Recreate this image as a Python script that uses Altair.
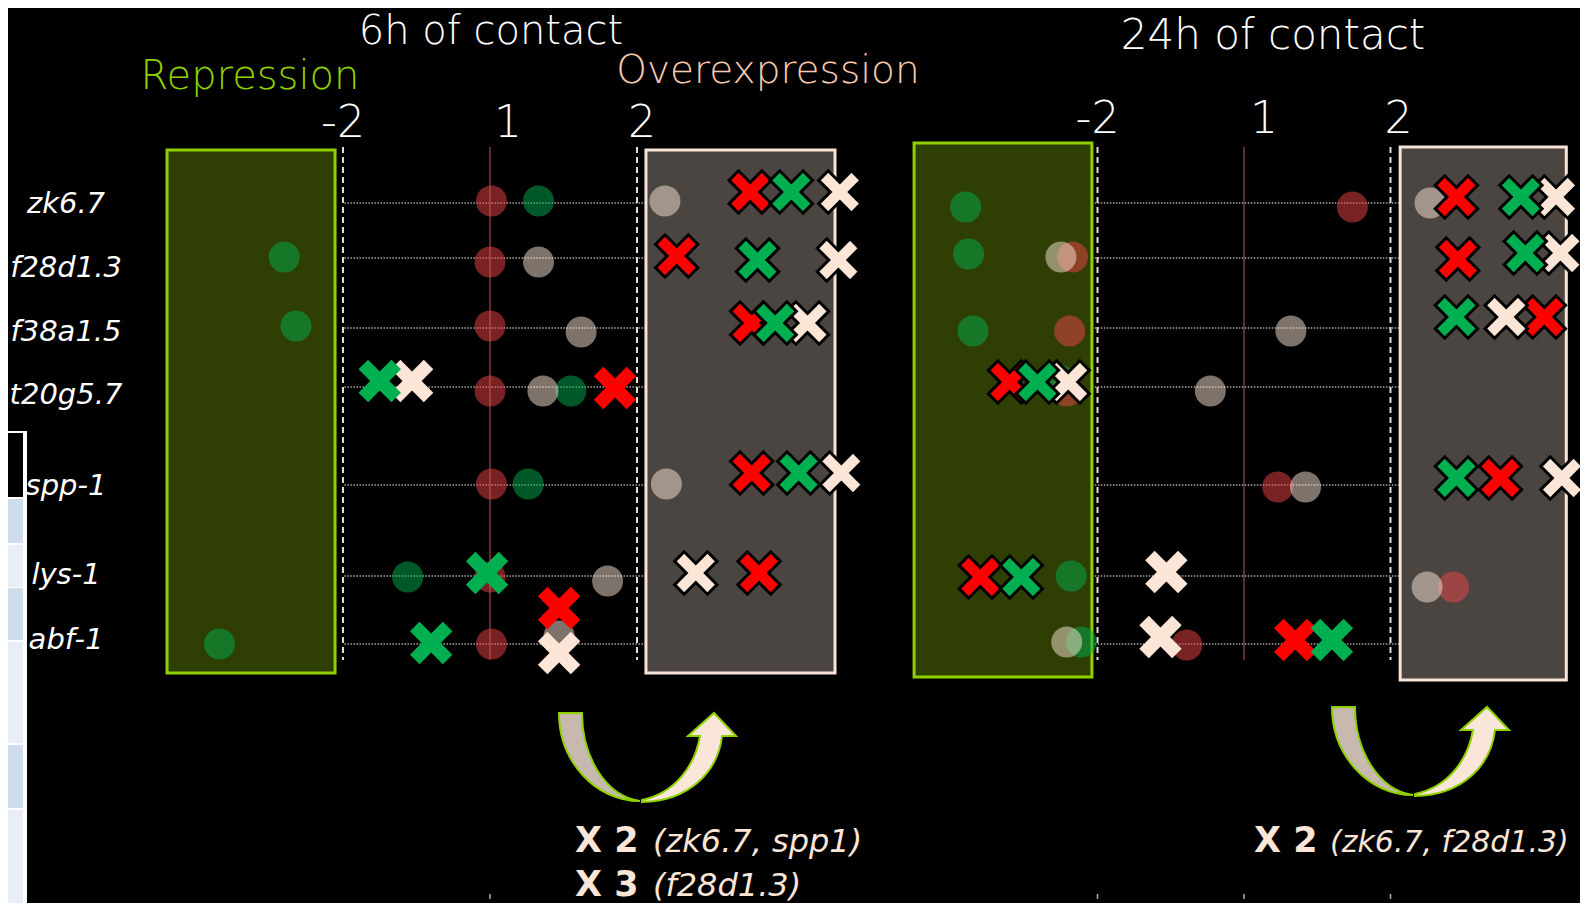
import altair as alt
import pandas as pd

# ---------------- data ----------------
GENES = ["zk6.7", "f28d1.3", "f38a1.5", "t20g5.7", "spp-1", "lys-1", "abf-1"]
PANELS = ["6h", "24h"]
PANEL_TITLES = ["6h of contact", "24h of contact"]
TICK_VALUES = [-1, 0, 1]          # log2 fold change
TICK_LABELS = ["-2", "1", "2"]     # fold change as printed

# log2 fold change per gene (None = no mark)
H6_CIRCLE_RED = [0.01, 0.0, 0.0, 0.0, 0.01, 0.0, 0.01]
H6_CIRCLE_GREEN = [0.33, -1.40, -1.32, 0.55, 0.26, -0.56, -1.84]
H6_CIRCLE_WHITE = [1.19, 0.33, 0.62, 0.36, 1.20, 0.80, 0.47]
H6_CROSS_RED = [1.77, 1.27, 1.78, 0.85, 1.78, 1.83, 0.47]
H6_CROSS_GREEN = [2.05, 1.82, 1.94, -0.75, 2.10, -0.02, -0.40]
H6_CROSS_WHITE = [2.38, 2.37, 2.16, -0.53, 2.39, 1.40, 0.47]

H24_CIRCLE_RED = [0.74, -1.17, -1.19, -1.21, 0.23, 1.43, -0.39]
H24_CIRCLE_GREEN = [-1.90, -1.88, -1.85, -1.26, None, -1.18, -1.11]
H24_CIRCLE_WHITE = [1.27, -1.25, 0.32, -0.23, 0.42, 1.25, -1.21]
H24_CROSS_RED = [1.45, 1.46, 2.05, -1.60, 1.75, -1.80, 0.35]
H24_CROSS_GREEN = [1.89, 1.92, 1.45, -1.41, 1.45, -1.52, 0.60]
H24_CROSS_WHITE = [2.13, 2.16, 1.79, -1.20, 2.17, -0.53, -0.57]

SECTION_TITLES = ["Repression", "Overexpression"]
ANNOT_6H = [("X 2", "(zk6.7, spp1)"), ("X 3", "(f28d1.3)")]
ANNOT_24H = [("X 2", "(zk6.7, f28d1.3)")]

VALUES = {
    ("6h", "circle", "red"): H6_CIRCLE_RED,
    ("6h", "circle", "green"): H6_CIRCLE_GREEN,
    ("6h", "circle", "white"): H6_CIRCLE_WHITE,
    ("6h", "cross", "red"): H6_CROSS_RED,
    ("6h", "cross", "green"): H6_CROSS_GREEN,
    ("6h", "cross", "white"): H6_CROSS_WHITE,
    ("24h", "circle", "red"): H24_CIRCLE_RED,
    ("24h", "circle", "green"): H24_CIRCLE_GREEN,
    ("24h", "circle", "white"): H24_CIRCLE_WHITE,
    ("24h", "cross", "red"): H24_CROSS_RED,
    ("24h", "cross", "green"): H24_CROSS_GREEN,
    ("24h", "cross", "white"): H24_CROSS_WHITE,
}

# ---------------- layout / style ----------------
W, H = 1572, 895
FONT = "DejaVu Sans"
BG = "black"
LIME = "#8FD000"
PEACH = "#FAE5D6"
XDOM = {"6h": [-482 / 147, (W - 482) / 147], "24h": [-1236 / 146.5, (W - 1236) / 146.5]}
ROW_PX = [195, 250, 320, 379, 477, 568, 636]
LABEL_DY = [1, 10, 4, 8, 1, -1, -4]

# vertical pixel nudges of markers relative to their gene row
DY_DEFAULT = {"circle": 1, "cross": -6}
DY = {
    ("6h", "zk6.7", "cross", None): -11, ("6h", "zk6.7", "circle", None): -2,
    ("6h", "f28d1.3", "cross", "red"): -2, ("6h", "f28d1.3", "cross", None): 2,
    ("6h", "f28d1.3", "circle", None): 4, ("6h", "f28d1.3", "circle", "green"): -1,
    ("6h", "f38a1.5", "circle", "white"): 4, ("6h", "f38a1.5", "circle", None): -2,
    ("6h", "f38a1.5", "cross", None): -5,
    ("6h", "t20g5.7", "cross", "red"): 1, ("6h", "t20g5.7", "circle", None): 4,
    ("6h", "spp-1", "cross", None): -12, ("6h", "spp-1", "circle", None): -1,
    ("6h", "lys-1", "cross", None): -3, ("6h", "lys-1", "circle", "white"): 5,
    ("6h", "abf-1", "cross", "red"): -36, ("6h", "abf-1", "cross", "white"): 9,
    ("6h", "abf-1", "cross", "green"): -1, ("6h", "abf-1", "circle", "white"): -8,
    ("6h", "abf-1", "circle", None): 0,
    ("24h", "zk6.7", "cross", None): -6, ("24h", "zk6.7", "circle", None): 4,
    ("24h", "zk6.7", "circle", "white"): 0,
    ("24h", "f28d1.3", "cross", None): -5, ("24h", "f28d1.3", "cross", "red"): 1,
    ("24h", "f28d1.3", "circle", None): -1, ("24h", "f28d1.3", "circle", "green"): -4,
    ("24h", "f38a1.5", "cross", None): -11, ("24h", "f38a1.5", "circle", None): 3,
    ("24h", "t20g5.7", "cross", None): -5, ("24h", "t20g5.7", "circle", None): 4,
    ("24h", "t20g5.7", "circle", "green"): -7,
    ("24h", "spp-1", "cross", None): -7, ("24h", "spp-1", "circle", None): 2,
    ("24h", "lys-1", "cross", None): 1, ("24h", "lys-1", "cross", "white"): -4,
    ("24h", "lys-1", "circle", None): 11, ("24h", "lys-1", "circle", "green"): 0,
    ("24h", "abf-1", "cross", None): -4, ("24h", "abf-1", "cross", "white"): -7,
    ("24h", "abf-1", "circle", None): -2, ("24h", "abf-1", "circle", "red"): 1,
}

BOXES = {  # x extents in log2 units, y extents in px
    "6h": {"rep": (-2.197, -1.054, 142, 665), "over": (1.061, 2.347, 142, 665)},
    "24h": {"rep": (-2.252, -1.038, 135, 669), "over": (1.066, 2.20, 139, 672)},
}
DOTTED_START = {"6h": -0.99, "24h": -1.10}
DOTTED_END = 1.3
TICK_Y = {"6h": 129, "24h": 125}
TICK_DX = {"6h": [0, 18, 5], "24h": [0, 20, 8]}

CROSS_PATH = ("M-1,-0.55L-0.55,-1L0,-0.45L0.55,-1L1,-0.55L0.45,0L1,0.55"
              "L0.55,1L0,0.45L-0.55,1L-1,0.55L-0.45,0Z")
CIRCLE_COLOR = {"red": "#F04448", "green": "#00B050", "white": "#FAE5D6"}
CROSS_COLOR = {"red": "#FF0000", "green": "#00B050", "white": "#FAE5D6"}

ARROW_LEFT = "M-81,-88C-81,-40,-45,0,0,0C-35,-5,-58,-45,-58,-88Z"
ARROW_RIGHT = "M2,1C50,0,78,-30,82,-65L96,-65L74,-88L48,-65L60,-65C55,-35,35,-8,2,-1Z"
ARROW_POS = {"6h": (632, 793), "24h": (1405, 787)}


def xenc(panel, field="v"):
    return alt.X(f"{field}:Q", scale=alt.Scale(domain=XDOM[panel], nice=False, zero=False), axis=None)


def yenc():
    return alt.Y("row:Q", scale=alt.Scale(domain=list(range(len(GENES))), range=ROW_PX,
                                          nice=False, zero=False), axis=None)


def one(**kw):
    return pd.DataFrame({k: [v] for k, v in kw.items()})


def text_layer(label, x, y, size, color, weight="normal", style="normal", align="center",
               baseline="alphabetic"):
    return alt.Chart(one(label=label)).mark_text(
        align=align, baseline=baseline, fontSize=size, color=color, fontWeight=weight,
        fontStyle=style, font=FONT
    ).encode(x=alt.value(x), y=alt.value(y), text="label:N")


def px_rect(x0, x1, y0, y1, color):
    return alt.Chart(one(k=0)).mark_rect(color=color).encode(
        x=alt.value(x0), x2=alt.value(x1), y=alt.value(y0), y2=alt.value(y1))


# ---------------- marker table ----------------
recs = []
for (panel, kind, ser), vals in VALUES.items():
    for i, (g, v) in enumerate(zip(GENES, vals)):
        if v is None:
            continue
        dy = DY.get((panel, g, kind, ser), DY.get((panel, g, kind, None), DY_DEFAULT[kind]))
        recs.append(dict(panel=panel, kind=kind, series=ser, gene=g, row=i, v=v, dy=dy))
df = pd.DataFrame(recs)

layers = []

# left table fragment
TABLE_CELLS = [(425, 489, "black"), (491, 535, "#CFDCEC"), (537, 579, "#E8EDF6"),
               (580, 632, "#CFDCEC"), (634, 735, "#E8EDF6"), (737, 800, "#CFDCEC"),
               (802, 895, "#E8EDF6")]
layers.append(px_rect(0, 19, 423, 895, "white"))
for y0, y1, c in TABLE_CELLS:
    layers.append(px_rect(0, 15, y0, y1, c))

for panel in PANELS:
    # dotted gene rows (under the boxes)
    rows = pd.DataFrame({"row": list(range(len(GENES))),
                         "v0": DOTTED_START[panel], "v1": DOTTED_END})
    layers.append(alt.Chart(rows).mark_rule(
        color="#A8A8A8", strokeDash=[1.5, 1.5], strokeWidth=1.5).encode(
        x=xenc(panel, "v0"), x2="v1:Q", y=yenc()))
    # boxes
    for key, fill, stroke in [("rep", "#2F3F03", LIME), ("over", "#4A4540", "#F8E4D6")]:
        v0, v1, y0, y1 = BOXES[panel][key]
        layers.append(alt.Chart(one(v0=v0, v1=v1)).mark_rect(
            fill=fill, stroke=stroke, strokeWidth=3).encode(
            x=xenc(panel, "v0"), x2="v1:Q", y=alt.value(y0), y2=alt.value(y1)))
    # dashed 2-fold lines
    layers.append(alt.Chart(pd.DataFrame({"v": [-1, 1]})).mark_rule(
        color="#E8DCD0", strokeDash=[6, 4], strokeWidth=2).encode(
        x=xenc(panel), y=alt.value(139), y2=alt.value(652)))
    # line at fold change 1
    layers.append(alt.Chart(pd.DataFrame({"v": [0]})).mark_rule(
        color="#A04848", strokeWidth=1.2).encode(
        x=xenc(panel), y=alt.value(139), y2=alt.value(652)))
    # little bottom remnants
    bt = [0] if panel == "6h" else [-1, 0, 1]
    layers.append(alt.Chart(pd.DataFrame({"v": bt})).mark_rule(
        color="#C8A8A0", strokeWidth=1.5).encode(
        x=xenc(panel), y=alt.value(886), y2=alt.value(891)))
    # tick labels
    for val, lab, dx in zip(TICK_VALUES, TICK_LABELS, TICK_DX[panel]):
        layers.append(alt.Chart(one(v=val, label=lab)).mark_text(
            dx=dx, fontSize=44, color="white", font=FONT, fontWeight=300,
            align="center", baseline="alphabetic").encode(
            x=xenc(panel), y=alt.value(TICK_Y[panel]), text="label:N"))

# markers
for kind, order in [("circle", ["red", "green", "white"]), ("cross", ["red", "white", "green"])]:
    for ser in order:
        for panel in PANELS:
            sub = df[(df.kind == kind) & (df.series == ser) & (df.panel == panel)]
            for dy, g in sub.groupby("dy"):
                g = g.drop(columns=["dy"])
                if kind == "circle":
                    ch = alt.Chart(g).mark_circle(
                        size=960, color=CIRCLE_COLOR[ser], opacity=0.5, yOffset=int(dy)
                    ).encode(x=xenc(panel), y=yenc())
                else:
                    ch = alt.Chart(g).mark_point(
                        shape=CROSS_PATH, size=1800, filled=True, color=CROSS_COLOR[ser],
                        stroke="black", opacity=1, yOffset=int(dy)
                    ).encode(x=xenc(panel), y=yenc(),
                             strokeWidth=alt.condition("abs(datum.v) >= 1",
                                                       alt.value(3), alt.value(0)))
                layers.append(ch)

# gene labels
for i, (gene, ldy) in enumerate(zip(GENES, LABEL_DY)):
    layers.append(alt.Chart(one(gene=gene, row=i)).mark_text(
        fontStyle="italic", fontSize=29, color="white", font=FONT, fontWeight=300,
        align="center", baseline="middle", dy=ldy).encode(
        x=alt.value(58), y=yenc(), text="gene:N"))

# titles
layers.append(text_layer(PANEL_TITLES[0], 483, 36, 40, "white", weight=300))
layers.append(text_layer(PANEL_TITLES[1], 1265, 41, 42, "white", weight=300))
layers.append(text_layer(SECTION_TITLES[0], 242, 81, 40, LIME, weight=300))
layers.append(text_layer(SECTION_TITLES[1], 760, 75, 39, "#F8CBAD", weight=300))

# arrows
for panel in PANELS:
    ax, ay = ARROW_POS[panel]
    for path, fill in [(ARROW_LEFT, "#C8B9AF"), (ARROW_RIGHT, "#FAE6D8")]:
        layers.append(alt.Chart(one(k=0)).mark_point(
            shape=path, size=4, filled=True, fill=fill, stroke=LIME, strokeWidth=2,
            opacity=1).encode(x=alt.value(ax), y=alt.value(ay)))

# annotations
for (bold, ital), y in zip(ANNOT_6H, [844, 888]):
    layers.append(text_layer(bold, 567, y, 35, PEACH, weight="bold", align="left"))
    layers.append(text_layer(ital, 645, y, 32, PEACH, style="italic", weight=300, align="left"))
for (bold, ital), y in zip(ANNOT_24H, [844]):
    layers.append(text_layer(bold, 1246, y, 35, PEACH, weight="bold", align="left"))
    layers.append(text_layer(ital, 1322, y, 30, PEACH, style="italic", weight=300, align="left"))

chart = alt.layer(*layers).resolve_scale(x="independent", y="independent").properties(
    width=W, height=H, background=BG, padding=0,
    autosize=alt.AutoSizeParams(type="none")
).configure_view(stroke=None)

chart.save("out.html", embed_options={"renderer": "svg", "actions": False})
